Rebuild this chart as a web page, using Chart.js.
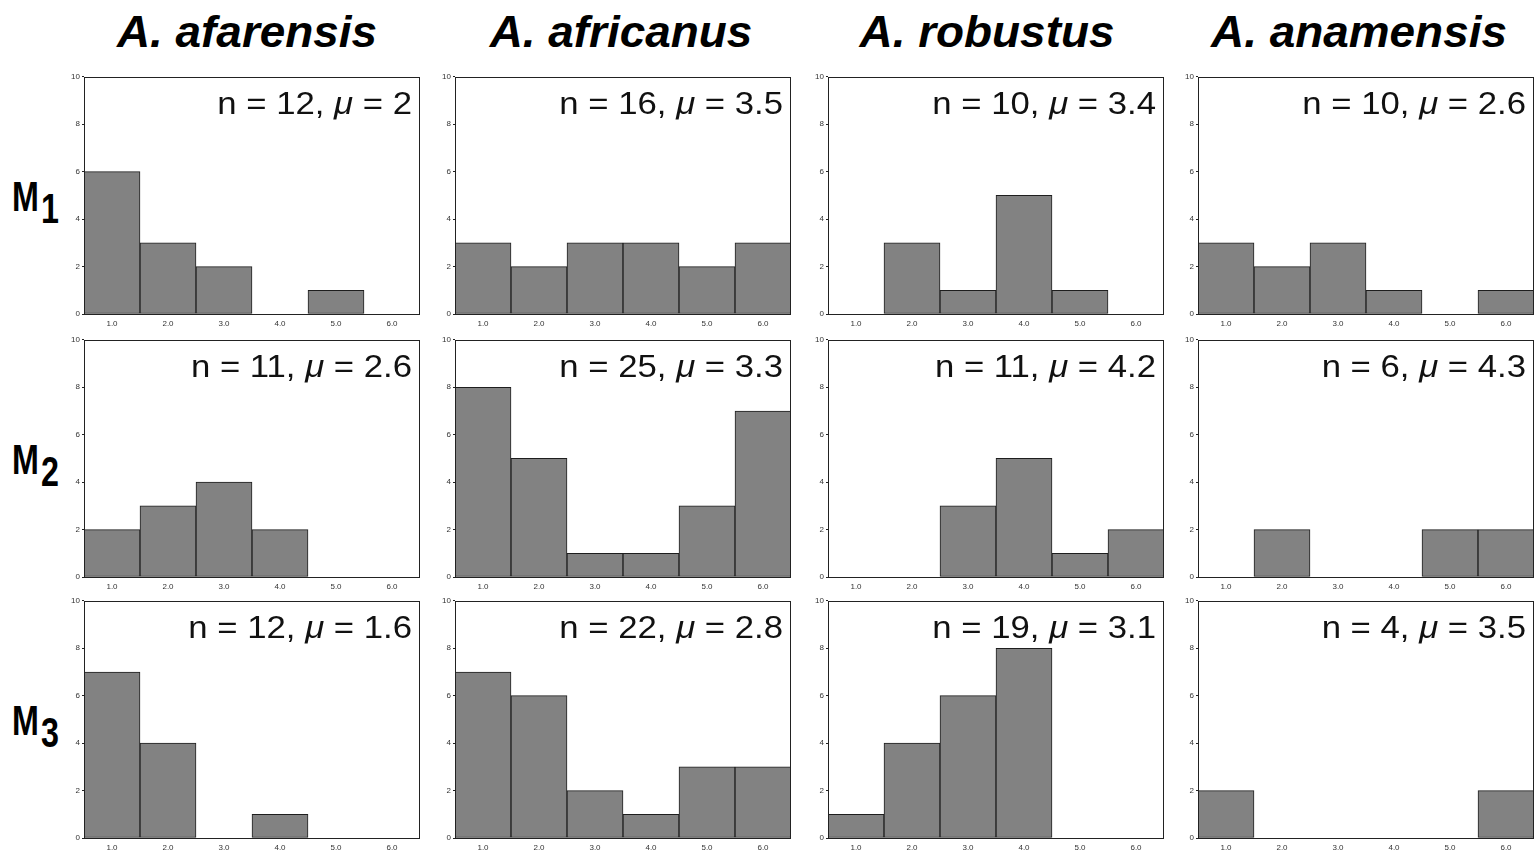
<!DOCTYPE html>
<html>
<head>
<meta charset="utf-8">
<script src="https://cdn.jsdelivr.net/npm/chart.js@4.4.1/dist/chart.umd.min.js"></script>
<style>
  body { margin: 0; background: #fff; width: 1537px; height: 857px; overflow: hidden; position: relative; }
  .panel { position: absolute; }
  .title {
    position: absolute; top: 10px; height: 44px; line-height: 44px;
    font-family: "Liberation Sans", Arial, sans-serif; font-weight: bold; font-style: italic;
    font-size: 45px; color: #000; text-align: center; white-space: nowrap;
    transform: scaleX(1.02);
  }
  .rowlabel {
    position: absolute; left: 12px; height: 44px; line-height: 44px;
    font-family: "Liberation Sans", Arial, sans-serif; font-weight: bold;
    font-size: 43px; color: #000; white-space: nowrap;
    transform: scaleX(0.75); transform-origin: left center;
  }
  .rowlabel sub { font-size: 43px; vertical-align: -12px; line-height: 0; margin-left: 3px; }
</style>
</head>
<body>
<script>
// kolommen en rijen
const species = ['A. afarensis', 'A. africanus', 'A. robustus', 'A. anamensis'];
const molars = ['1', '2', '3'];
const bins = ['1.0', '2.0', '3.0', '4.0', '5.0', '6.0'];

// aantallen per bin, per soort (zelfde volgorde als species)
const m1Counts = [
  [6, 3, 2, 0, 1, 0],
  [3, 2, 3, 3, 2, 3],
  [0, 3, 1, 5, 1, 0],
  [3, 2, 3, 1, 0, 1]
];
const m2Counts = [
  [2, 3, 4, 2, 0, 0],
  [8, 5, 1, 1, 3, 7],
  [0, 0, 3, 5, 1, 2],
  [0, 2, 0, 0, 2, 2]
];
const m3Counts = [
  [7, 4, 0, 1, 0, 0],
  [7, 6, 2, 1, 3, 3],
  [1, 4, 6, 8, 0, 0],
  [2, 0, 0, 0, 0, 2]
];

// n en gemiddelde per paneel
const m1N = [12, 16, 10, 10];
const m1Mu = ['2', '3.5', '3.4', '2.6'];
const m2N = [11, 25, 11, 6];
const m2Mu = ['2.6', '3.3', '4.2', '4.3'];
const m3N = [12, 22, 19, 4];
const m3Mu = ['1.6', '2.8', '3.1', '3.5'];

const counts = [m1Counts, m2Counts, m3Counts];
const nVals = [m1N, m2N, m3N];
const muVals = [m1Mu, m2Mu, m3Mu];

// plaatsing van de plotvlakken
const colLeft = [84, 455, 828, 1198];
const titleShift = [-5, -2, -9, -7];
const rowTop = [76, 339, 600];
const plotW = 336;
const plotH = 238;
const axisW = 24;
const axisH = 16;
const padTop = 6;
const padRight = 1;

// kader rond het plotvlak + tekst n/mu
const framePlugin = {
  id: 'frame',
  afterDraw(chart, args, opts) {
    const ctx = chart.ctx;
    const a = chart.chartArea;
    ctx.save();
    ctx.strokeStyle = '#222';
    ctx.lineWidth = 1;
    ctx.strokeRect(Math.round(a.left) + 0.5, Math.round(a.top) + 0.5,
      Math.round(a.right - a.left) - 1, Math.round(a.bottom - a.top));
    ctx.restore();

    // tekst rechtsboven
    const parts = [
      { t: 'n = ' + opts.n + ', ', f: '31px "Liberation Sans", Arial, sans-serif' },
      { t: '\u03BC', f: 'italic 31px "Liberation Sans", Arial, sans-serif' },
      { t: ' = ' + opts.mu, f: '31px "Liberation Sans", Arial, sans-serif' }
    ];
    ctx.save();
    let total = 0;
    parts.forEach(p => { ctx.font = p.f; p.w = ctx.measureText(p.t).width; total += p.w; });
    const sx = 1.12;
    ctx.translate(a.right - 8, a.top + 37);
    ctx.scale(sx, 1);
    ctx.fillStyle = '#111';
    ctx.textBaseline = 'alphabetic';
    let x = -total;
    parts.forEach(p => { ctx.font = p.f; ctx.fillText(p.t, x, 0); x += p.w; });
    ctx.restore();
  }
};

species.forEach((name, c) => {
  const t = document.createElement('div');
  t.className = 'title';
  t.textContent = name;
  t.style.left = (colLeft[c] + titleShift[c]) + 'px';
  t.style.width = plotW + 'px';
  document.body.appendChild(t);
});

molars.forEach((m, r) => {
  const l = document.createElement('div');
  l.className = 'rowlabel';
  l.innerHTML = 'M<sub>' + m + '</sub>';
  l.style.top = (rowTop[r] + plotH / 2 - 22 + 1) + 'px';
  document.body.appendChild(l);
});

for (let r = 0; r < 3; r++) {
  for (let c = 0; c < 4; c++) {
    const div = document.createElement('div');
    div.className = 'panel';
    div.style.left = (colLeft[c] - axisW) + 'px';
    div.style.top = (rowTop[r] - padTop) + 'px';
    const canvas = document.createElement('canvas');
    canvas.width = axisW + plotW + padRight;
    canvas.height = padTop + plotH + axisH;
    div.appendChild(canvas);
    document.body.appendChild(div);

    new Chart(canvas.getContext('2d'), {
      type: 'bar',
      data: {
        labels: bins,
        datasets: [{
          data: counts[r][c],
          backgroundColor: '#828282',
          borderColor: '#1e1e1e',
          borderWidth: 1,
          borderSkipped: false,
          barPercentage: 1,
          categoryPercentage: 1
        }]
      },
      options: {
        responsive: false,
        animation: false,
        layout: { padding: { top: padTop, right: padRight, left: 0, bottom: 0 } },
        plugins: {
          legend: { display: false },
          tooltip: { enabled: false },
          frame: { n: nVals[r][c], mu: muVals[r][c] }
        },
        scales: {
          x: {
            grid: { display: false, drawTicks: false },
            border: { display: false },
            ticks: { color: '#333', font: { size: 8, family: 'Arial, "Liberation Sans", sans-serif' }, padding: 5, maxRotation: 0 },
            afterFit(scale) { scale.height = axisH; }
          },
          y: {
            min: 0,
            max: 10,
            grid: { drawOnChartArea: false, drawTicks: true, tickLength: 2, color: '#222' },
            border: { display: false },
            ticks: { stepSize: 2, color: '#333', font: { size: 8, family: 'Arial, "Liberation Sans", sans-serif' }, padding: 2 },
            afterFit(scale) { scale.width = axisW; }
          }
        }
      },
      plugins: [framePlugin]
    });
  }
}
</script>
</body>
</html>
